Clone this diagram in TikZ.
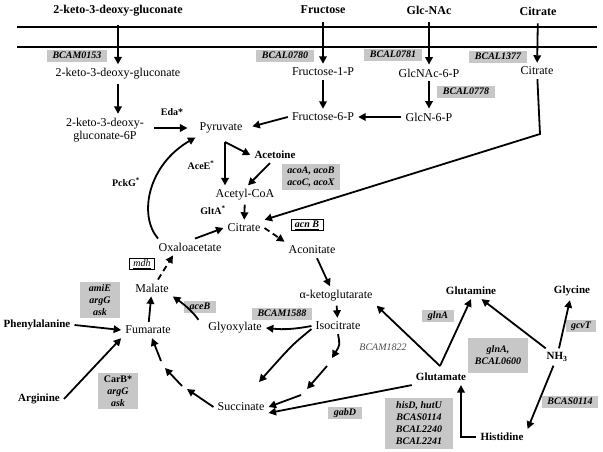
\documentclass[tikz,border=0pt]{standalone}
\usepackage{fontspec}
\setmainfont{Liberation Serif}
\usetikzlibrary{arrows.meta}

\tikzset{
  met/.style={font=\fontsize{12}{13}\selectfont, inner sep=4pt},
  metb/.style={font=\fontsize{11}{13}\selectfont\bfseries, inner sep=4pt},
  top/.style={font=\fontsize{12}{13}\selectfont\bfseries, inner sep=3pt},
  gene/.style={fill=black!22, font=\fontsize{10}{12.5}\selectfont\bfseries\itshape,
    inner xsep=5.5pt, inner ysep=1.5pt, text height=7pt, text depth=2pt},
  genes/.style={fill=black!22, font=\fontsize{10}{12}\selectfont\bfseries\itshape,
    inner xsep=3pt, inner ysep=2pt, align=center},
  genebox/.style={draw, line width=0.7pt, fill=white, font=\fontsize{10}{12}\selectfont\itshape,
    inner xsep=4pt, inner ysep=1pt, text height=7pt, text depth=2.5pt},
  enz/.style={font=\fontsize{10}{12}\selectfont\bfseries},
  arr/.style={line width=1.8pt, -{Triangle[length=7.5pt,width=7.5pt]}},
  darr/.style={arr, dash pattern=on 6pt off 4pt},
  mem/.style={line width=1.5pt}
}

\begin{document}
\begin{tikzpicture}[x=1pt, y=-1pt]
    \useasboundingbox (0,0) rectangle (603,452);
    \draw[mem] (17,27) -- (597,27);
    \draw[mem] (17,47) -- (597,47);

    \node[top] (kdgOut) at (118,11) {2-keto-3-deoxy-gluconate};
    \node[top] (fruOut) at (323,10) {Fructose};
    \node[top] (nacOut) at (429,10) {Glc-NAc};
    \node[top] (citOut) at (538,11) {Citrate};

    \node[met] (kdg) at (118,74) {2-keto-3-deoxy-gluconate};
    \node[met] (fru1p) at (323,72) {Fructose-1-P};
    \node[met] (nac6p) at (429,73) {GlcNAc-6-P};
    \node[met] (citIn) at (537,71) {Citrate};
    \node[met, align=center] (kdg6p) at (105,130) {2-keto-3-deoxy-\\gluconate-6P};
    \node[met] (fru6p) at (323,117) {Fructose-6-P};
    \node[met] (glcn6p) at (429,117) {GlcN-6-P};
    \node[met] (pyr) at (221,128) {Pyruvate};
    \node[metb] (acetoin) at (275,155) {Acetoine};
    \node[met] (accoa) at (245,195) {Acetyl-CoA};
    \node[met] (cit) at (244,228) {Citrate};
    \node[met] (oaa) at (190,247) {Oxaloacetate};
    \node[met] (acon) at (312,250) {Aconitate};
    \node[met] (akg) at (336,296) {α-ketoglutarate};
    \node[met] (icit) at (338,326) {Isocitrate};
    \node[met] (glyox) at (235,328) {Glyoxylate};
    \node[met] (mal) at (152,288) {Malate};
    \node[met] (fum) at (148,330) {Fumarate};
    \node[met] (succ) at (241,407) {Succinate};
    \node[metb] (phe) at (37,325) {Phenylalanine};
    \node[metb] (arg) at (39,399) {Arginine};
    \node[metb] (glu) at (441,377) {Glutamate};
    \node[metb] (gln) at (471,291) {Glutamine};
    \node[metb] (gly) at (572,291) {Glycine};
    \node[metb] (nh3) at (557,357) {NH\textsubscript{3}};
    \node[metb] (his) at (502,437) {Histidine};

    \node[gene] (gBCAM0153) at (77,56) {BCAM0153};
    \node[gene] (gBCAL0780) at (285,56) {BCAL0780};
    \node[gene] (gBCAL0781) at (393,55) {BCAL0781};
    \node[gene] (gBCAL1377) at (498,57) {BCAL1377};
    \node[gene] (gBCAL0778) at (466,92) {BCAL0778};
    \node[gene] (gAceB) at (200,307) {aceB};
    \node[gene] (gBCAM1588) at (282,314) {BCAM1588};
    \node[gene] (gGlnA) at (438,316) {glnA};
    \node[gene] (gGcvT) at (581,326) {gcvT};
    \node[gene] (gBCAS0114) at (570,402) {BCAS0114};
    \node[gene] (gGabD) at (345,413) {gabD};
    \node[genes, minimum width=58pt, minimum height=26pt] (gAco) at (311,177) {acoA, acoB\\acoC, acoX};
    \node[genes, minimum width=40pt, minimum height=36pt] (gAmiE) at (100,300) {amiE\\argG\\ask};
    \node[genes, minimum width=40pt, minimum height=36pt] (gCarB) at (118,391) {{\upshape CarB*}\\argG\\ask};
    \node[genes, minimum width=60pt, minimum height=35pt] (gGlnB) at (498,355) {glnA,\\BCAL0600};
    \node[genes, minimum width=68pt, minimum height=51pt] (gHisD) at (419,423) {hisD, hutU\\BCAS0114\\BCAL2240\\BCAL2241};
    \node[genebox] (gAcnB) at (307,225) {\bfseries\underline{acn B}};
    \node[genebox] (gMdh) at (142,264) {\underline{mdh}};

    \node[enz] (eEda) at (172,112) {Eda*};
    \node[enz] (eAceE) at (201,165) {AceE\textsuperscript{*}};
    \node[enz] (ePckG) at (126,182) {PckG\textsuperscript{*}};
    \node[enz] (eGltA) at (213,210) {GltA\textsuperscript{*}};
    \node[font=\fontsize{10}{12}\selectfont\itshape, text=black!70] (eBCAM1822) at (383,347) {BCAM1822};

    \coordinate (citBend) at (540,134);
    \coordinate (pyrB) at (225,142);
    \coordinate (gluV) at (440,366);
    \coordinate (lyT) at (259,382);
    \coordinate (t1) at (332,358);
    \coordinate (t1b) at (327,366);
    \coordinate (t2) at (307,389);
    \coordinate (t2b) at (301,395);
    \coordinate (s1) at (187,389);
    \coordinate (s1b) at (182,386);
    \coordinate (s2) at (165,368);
    \coordinate (s2b) at (161,361);

    \draw[arr, shorten <=5pt] (kdgOut) -- (kdg);
    \draw[arr, shorten <=5pt] (fruOut) -- (fru1p);
    \draw[arr, shorten <=5pt] (nacOut) -- (nac6p);
    \draw[arr, shorten <=5pt] (citOut) -- (citIn);
    \draw[arr] (kdg) -- (kdg |- kdg6p.north);
    \draw[arr] (fru1p) -- (fru6p);
    \draw[arr] (nac6p) -- (glcn6p);
    \draw[arr] (glcn6p) -- (fru6p);
    \draw[arr] (citIn) -- (citBend) -- (cit.north east);
    \draw[arr, shorten <=6pt, shorten >=8pt] (kdg6p.east |- pyr) -- (pyr.west);
    \draw[arr, shorten >=6pt] (fru6p.west) -- (pyr.east);
    \draw[arr] (pyrB) -- (pyrB |- accoa.north);
    \draw[arr] (pyrB) -- (acetoin.west);
    \draw[arr] ([xshift=-5pt]acetoin.south) -- ([xshift=3pt]accoa.north);
    \draw[arr] (accoa) -- (cit);
    \draw[arr] ([xshift=5pt]oaa.north) -- (cit.west);
    \draw[arr] ([xshift=-32pt]oaa.north) .. controls (138,215) and (148,165) .. (pyr.south west);
    \draw[darr] (cit.east) -- (acon.north west);
    \draw[arr] ([xshift=5pt]acon.south) -- ([xshift=-6pt]akg.north);
    \draw[arr] (akg) -- (icit);
    \draw[arr] (icit.west) to[bend left=8] (glyox.east);
    \draw[arr] ([yshift=-3pt]icit.west) .. controls (292,345) .. (lyT);
    \draw[arr] (icit.south) .. controls (340,345) .. (t1);
    \draw[arr] (t1b) -- (t2);
    \draw[arr] (t2b) -- (succ.east);
    \draw[arr] (succ.west) -- (s1);
    \draw[arr] (s1b) -- (s2);
    \draw[arr] (s2b) -- ([xshift=4pt]fum.south);
    \draw[arr] (fum) -- (mal);
    \draw[arr, shorten <=10pt] (glyox.west) to[bend right=10] (mal.south east);
    \draw[darr] ([xshift=6pt]mal.north) -- ([xshift=-17pt]oaa.south);
    \draw[arr] (phe.east) -- (fum.west);
    \draw[arr] (arg.east) -- (fum.south west);
    \draw[arr] (gluV) -- (akg.south east);
    \draw[arr] (gluV) -- (gln.south);
    \draw[arr] (glu.south west) -- ([yshift=-6pt]succ.east);
    \draw[arr] (nh3) -- (gln);
    \draw[arr] (nh3) -- (gly);
    \draw[arr] (nh3) -- (his.north east);
    \draw[arr] (his.west) -| ([xshift=20pt]glu.south);
\end{tikzpicture}
\end{document}
